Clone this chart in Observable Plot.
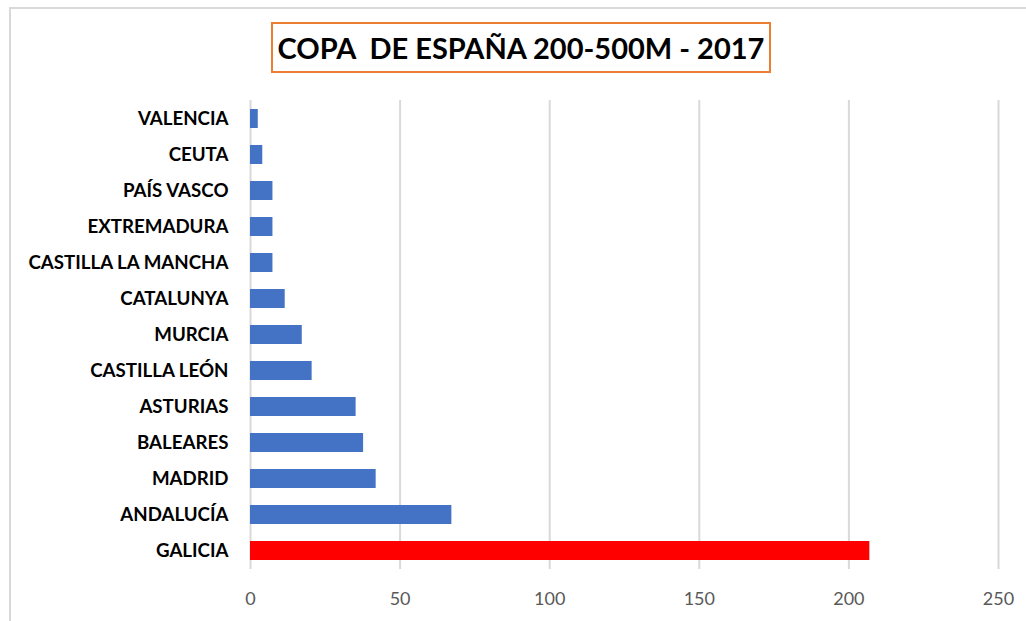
<!DOCTYPE html>
<html>
<head>
<meta charset="utf-8">
<script src="https://cdn.jsdelivr.net/npm/d3@7"></script>
<script src="https://cdn.jsdelivr.net/npm/@observablehq/plot@0.6"></script>
<style>
  html, body { margin: 0; padding: 0; background: #fff; }
  #wrap { position: relative; width: 1026px; height: 621px; overflow: hidden; font-family: Lato, "Open Sans", sans-serif; }
  #frame { position: absolute; left: 9px; top: 7px; width: 1100px; height: 700px; border: 2px solid #d9d9d9; box-sizing: border-box; }
  #titlebox { position: absolute; left: 271px; top: 22px; width: 500px; height: 51px; box-sizing: border-box; border: 2px solid #ED7D31; display: flex; align-items: center; justify-content: center; font-weight: bold; font-size: 29px; color: #000; white-space: pre; background: #fff; }
  #chart { position: absolute; left: 0; top: 90px; }
</style>
</head>
<body>
<div id="wrap">
  <div id="frame"></div>
  <div id="titlebox">COPA  DE ESPAÑA 200-500M - 2017</div>
  <div id="chart"></div>
</div>
<script>
const regions = ["VALENCIA", "CEUTA", "PAÍS VASCO", "EXTREMADURA", "CASTILLA LA MANCHA", "CATALUNYA", "MURCIA", "CASTILLA LEÓN", "ASTURIAS", "BALEARES", "MADRID", "ANDALUCÍA", "GALICIA"];
const points = [2.6, 4.1, 7.5, 7.5, 7.5, 11.6, 17.3, 20.6, 35.3, 37.8, 42, 67.3, 207];
const highlight = "GALICIA";
const xTicks = [0, 50, 100, 150, 200, 250];

const data = regions.map((r, i) => ({region: r, value: points[i]}));

const plot = Plot.plot({
  width: 1026,
  height: 531,
  marginLeft: 250,
  marginRight: 28,
  marginTop: 10,
  marginBottom: 52,
  style: {fontFamily: "Lato, 'Open Sans', sans-serif", background: "transparent"},
  x: {domain: [0, 250], ticks: xTicks, label: null},
  y: {domain: regions, label: null, paddingInner: 0.46, paddingOuter: 0.23},
  marks: [
    Plot.gridX(xTicks, {stroke: "#d9d9d9", strokeOpacity: 1, strokeWidth: 2}),
    Plot.barX(data, {x: "value", y: "region", fill: d => d.region === highlight ? "#FF0000" : "#4472C4"}),
    Plot.axisX({ticks: xTicks, tickSize: 0, tickPadding: 23, fontSize: 18, fill: "#595959", label: null}),
    Plot.axisY({tickSize: 0, tickPadding: 22, fontSize: 18.7, fontWeight: "bold", fill: "#000", label: null})
  ]
});
document.getElementById("chart").appendChild(plot);
</script>
</body>
</html>
